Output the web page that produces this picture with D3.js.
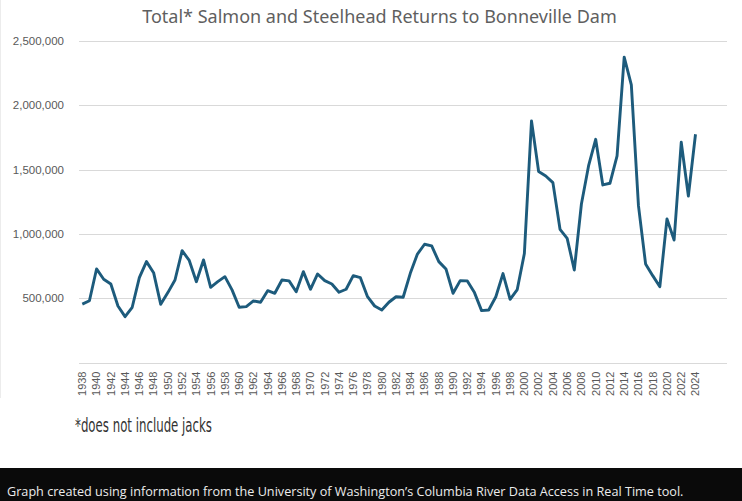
<!DOCTYPE html>
<html>
<head>
<meta charset="utf-8">
<script src="https://cdn.jsdelivr.net/npm/d3@7/dist/d3.min.js"></script>
<style>
  html, body { margin: 0; padding: 0; background: #fff; }
  svg { display: block; }
</style>
</head>
<body>
<svg id="chart" width="742" height="501"></svg>
<script>
// Returns at Bonneville Dam, one value per year (1938-2024)
const years = d3.range(1938, 2025);
const returns = [
  455000, 481000, 728000, 648000, 611000, 440000, 357000, 430000, 660000, 785000,
  699000, 453000, 544000, 642000, 870000, 794000, 629000, 798000, 585000, 629000,
  668000, 565000, 430000, 435000, 479000, 469000, 559000, 539000, 642000, 635000,
  551000, 707000, 570000, 689000, 637000, 611000, 547000, 570000, 676000, 660000,
  512000, 440000, 409000, 469000, 512000, 508000, 694000, 844000, 920000, 907000,
  785000, 728000, 539000, 637000, 635000, 544000, 404000, 409000, 512000, 692000,
  492000, 568000, 848000, 1879000, 1485000, 1451000, 1399000, 1036000, 966000, 720000,
  1233000, 1529000, 1736000, 1381000, 1394000, 1607000, 2374000, 2159000, 1220000, 767000,
  676000, 590000, 1117000, 953000, 1713000, 1295000, 1775000
];
const yTicks = [500000, 1000000, 1500000, 2000000, 2500000];
const xLabels = years.filter(y => (y - 1938) % 2 === 0);

const titleText = 'Total* Salmon and Steelhead Returns to Bonneville Dam';
const noteText = '*does not include jacks';
const sourceText = 'Graph created using information from the University of Washington\u2019s Columbia River Data Access in Real Time tool.';

const plot = { left: 79, right: 727, top: 41, bottom: 362.6 };

const svg = d3.select('#chart');

// faint edge of the chart picture
svg.append('line')
  .attr('x1', 0.5).attr('x2', 0.5)
  .attr('y1', 0).attr('y2', 398)
  .attr('stroke', '#ececec');

const x = d3.scalePoint()
  .domain(years)
  .range([82.3, 695.5]);

const y = d3.scaleLinear()
  .domain([0, 2500000])
  .range([plot.bottom, plot.top]);

// grid lines + axis line
svg.append('g')
  .selectAll('line')
  .data([0].concat(yTicks))
  .enter()
  .append('line')
  .attr('x1', plot.left)
  .attr('x2', plot.right)
  .attr('y1', d => Math.round(y(d)) + 0.5)
  .attr('y2', d => Math.round(y(d)) + 0.5)
  .attr('stroke', '#d9d9d9')
  .attr('stroke-width', 1.2);

// y labels
svg.append('g')
  .selectAll('text')
  .data(yTicks)
  .enter()
  .append('text')
  .attr('x', 64)
  .attr('y', d => y(d))
  .attr('dy', '0.35em')
  .attr('text-anchor', 'end')
  .style('font-family', '"Liberation Sans", Arial, sans-serif')
  .style('font-size', '11.5px')
  .style('fill', '#595959')
  .text(d3.format(','));

// x labels (rotated)
svg.append('g')
  .selectAll('text')
  .data(xLabels)
  .enter()
  .append('text')
  .attr('transform', d => `translate(${x(d)},371.5) rotate(-90)`)
  .attr('dy', '0.35em')
  .attr('text-anchor', 'end')
  .style('font-family', '"Liberation Sans", Arial, sans-serif')
  .style('font-size', '11px')
  .style('fill', '#595959')
  .text(d => d);

// line
const line = d3.line()
  .x((d, i) => x(years[i]))
  .y(d => y(d));

svg.append('path')
  .datum(returns)
  .attr('d', line)
  .attr('fill', 'none')
  .attr('stroke', '#1d5b7c')
  .attr('stroke-width', 2.9)
  .attr('stroke-linejoin', 'round');

// helper: scale a text to a given width
function fitWidth(sel, width) {
  const len = sel.node().getComputedTextLength();
  const fs = parseFloat(sel.style('font-size'));
  sel.style('font-size', (fs * width / len) + 'px');
}

// title
const title = svg.append('text')
  .attr('x', 379.5)
  .attr('y', 23)
  .attr('text-anchor', 'middle')
  .style('font-family', '"Noto Sans", "Open Sans", sans-serif')
  .style('font-size', '17px')
  .style('fill', '#5f5f5f')
  .text(titleText);
fitWidth(title, 475);

// footnote
svg.append('text')
  .attr('x', 75)
  .attr('y', 432)
  .attr('textLength', 137)
  .attr('lengthAdjust', 'spacingAndGlyphs')
  .style('font-family', '"Liberation Sans Narrow", "DejaVu Sans Condensed", sans-serif')
  .style('font-size', '19px')
  .style('fill', '#333')
  .text(noteText);

// black source bar
svg.append('rect')
  .attr('x', 0)
  .attr('y', 468)
  .attr('width', 742)
  .attr('height', 33)
  .attr('fill', '#0a0a0a');

const source = svg.append('text')
  .attr('x', 7)
  .attr('y', 496.3)
  .style('font-family', '"Open Sans", "Noto Sans", sans-serif')
  .style('font-size', '13px')
  .style('fill', '#ececec')
  .text(sourceText);
fitWidth(source, 677);
</script>
</body>
</html>
